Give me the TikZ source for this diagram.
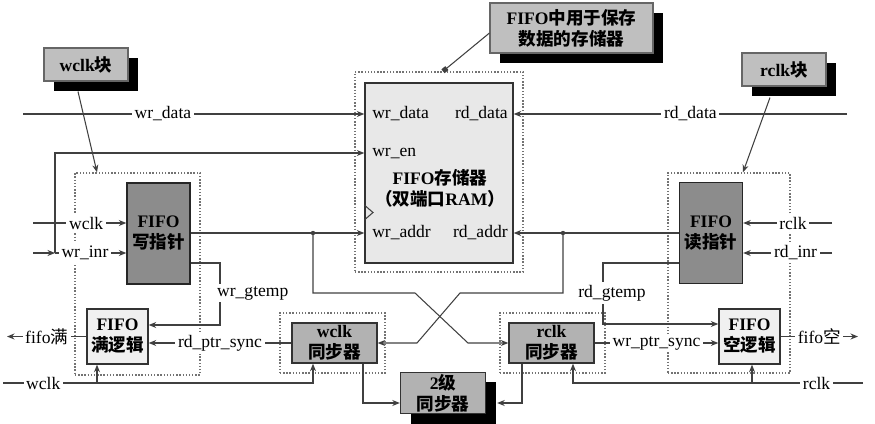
\documentclass[tikz,border=0pt]{standalone}
\usepackage{fontspec}
\setmainfont{Liberation Serif}
\newfontfamily\cjk{Noto Sans CJK SC}
\newcommand\zh[1]{{\cjk #1}}
\usetikzlibrary{arrows.meta,positioning,calc,shadows}
\tikzset{
  ptrbox/.style={rectangle, draw=black!85, thick, fill=black!45, align=center,
                 font=\bfseries, minimum width=12.6mm, minimum height=20.2mm,
                 inner sep=1pt},
  logicbox/.style={rectangle, draw=black!80, thick, fill=black!6, align=center,
                   font=\bfseries, minimum width=12.2mm, minimum height=11mm,
                   inner sep=1pt},
  syncbox/.style={rectangle, draw=black!80, thick, fill=black!30, align=center,
                  font=\bfseries, minimum width=17mm, minimum height=8mm,
                  inner sep=1pt},
  shadowed/.style={drop shadow={shadow xshift=2mm, shadow yshift=-2mm,
                   fill=black, opacity=1}},
  notebox/.style={rectangle, draw=black!60, fill=black!25, align=center,
                  font=\bfseries, inner sep=1pt, shadowed},
  grpbox/.style={rectangle, draw=black!55, densely dotted, line width=0.8pt},
  ramblk/.style={rectangle, draw=black!80, thick, fill=black!9,
                 minimum width=29.6mm, minimum height=36mm},
  port/.style={inner sep=1pt},
  arrow/.style={-{Stealth[length=1.5mm, width=1.2mm]}},
  lbl/.style={fill=white, inner sep=1.5pt}
}

\begin{document}
\begin{tikzpicture}[x=0.2mm, y=-0.2mm, line width=0.6pt, color=black!75, text=black]
  \useasboundingbox (0,0) rectangle (875,423);

  \node[grpbox, minimum width=25mm, minimum height=40.4mm] (wgrp) at (137.5,274) {};
  \node[grpbox, minimum width=24.4mm, minimum height=40mm] (rgrp) at (729,273) {};
  \node[grpbox, minimum width=33.6mm, minimum height=40mm] (ramgrp) at (439,172) {};
  \node[grpbox, minimum width=21mm, minimum height=12mm] (wsgrp) at (332.5,343) {};
  \node[grpbox, minimum width=21mm, minimum height=12mm] (rsgrp) at (552.5,343) {};

  \node[ramblk] (ram) at (439,173) {};
  \node[port, anchor=west] (pwdata) at (370,114) {wr\_data};
  \node[port, anchor=east] (prdata) at (510,114) {rd\_data};
  \node[port, anchor=west] (pwen) at (370,153) {wr\_en};
  \node[port, align=center, font=\bfseries] (ramname) at (440,188)
    {FIFO\zh{存储器}\\\zh{（双端口}RAM\zh{）}};
  \node[port, anchor=west] (pwaddr) at (370,233) {wr\_addr};
  \node[port, anchor=east] (praddr) at (510,233) {rd\_addr};
  \draw (ram.west |- 0,205) -- (373,212.5) -- (ram.west |- 0,220);

  \node[ptrbox] (wptr) at (158.5,233.5) {FIFO\\\zh{写指针}};
  \node[ptrbox] (rptr) at (711,233) {FIFO\\\zh{读指针}};
  \node[logicbox] (wfull) at (117.5,336.5) {FIFO\\\zh{满逻辑}};
  \node[logicbox] (rempty) at (749.5,336.5) {FIFO\\\zh{空逻辑}};
  \node[syncbox] (wsync) at (334.5,343) {wclk\\\zh{同步器}};
  \node[syncbox] (rsync) at (551.5,343) {rclk\\\zh{同步器}};
  \node[syncbox, shadowed] (sync2) at (443,393) {2\zh{级}\\\zh{同步器}};

  \node[notebox, minimum width=16.8mm, minimum height=6.6mm] (wnote) at (86,64.5) {wclk\zh{块}};
  \node[notebox, minimum width=32.6mm, minimum height=10mm] (memnote) at (571.5,28)
    {FIFO\zh{中用于保存}\\\zh{数据的存储器}};
  \node[notebox, minimum width=16.8mm, minimum height=6.6mm] (rnote) at (784,69.5) {rclk\zh{块}};

  \draw[arrow] ($(wnote.south)+(-8,10)$) -- (wgrp.north -| 97,0);
  \draw[-{Square[length=1mm]}] ($(memnote.west)+(0,5)$) -- (ramgrp.north -| 443,0);
  \draw[arrow] ($(rnote.south)+(-14,11)$) -- (rgrp.north -| 743,0);

  \coordinate (wdin) at (23,114);
  \coordinate (rdout) at (847,114);
  \draw[arrow] (wdin) -- node[lbl, pos=0.41] (lwd) {wr\_data} (wdin -| ram.west);
  \draw[arrow] (rdout) -- node[lbl, pos=0.47] (lrd) {rd\_data} (rdout -| ram.east);

  \coordinate (wclkin) at (33,223);
  \coordinate (winr) at (33,253);
  \coordinate (wjoin) at (55,253);
  \draw[arrow] (wclkin) -- node[lbl, pos=0.57] (lwclk) {wclk} (wclkin -| wptr.west);
  \draw[arrow] (winr) -- (wjoin);
  \draw[arrow] (wjoin) -- node[lbl, pos=0.42] (lwinr) {wr\_inr} (wjoin -| wptr.west);
  \draw[arrow] (wjoin) |- (pwen.west -| ram.west);

  \coordinate (rclkin) at (832,223);
  \coordinate (rinr) at (832,253);
  \draw[arrow] (rclkin) -- node[lbl, pos=0.44] (lrclk) {rclk} (rclkin -| rptr.east);
  \draw[arrow] (rinr) -- node[lbl, pos=0.41] (lrinr) {rd\_inr} (rinr -| rptr.east);

  \coordinate (wj) at (313,233);
  \coordinate (rj) at (563,233);
  \draw[arrow] (wptr.east |- wj) -- (wj -| ram.west);
  \draw[arrow] (rptr.west |- rj) -- (rj -| ram.east);
  \fill (wj) circle (2.2);
  \fill (rj) circle (2.2);
  \draw[arrow] (wj) -- (313,293) -- (415,293) -- (468,343) -- (rsync.west);
  \draw[arrow] (rj) -- (563,293) -- (460,293) -- (417,343) -- (wsync.east);

  \draw[arrow] (wptr.east |- 0,263) -- (220,263) -- (220,325) -- (wfull.east |- 0,325);
  \node[lbl, anchor=west] (lwgt) at (214,293) {wr\_gtemp};
  \draw[arrow] (rptr.west |- 0,263) -- (603,263) -- (603,324) -- (rempty.west |- 0,324);
  \node[lbl] (lrgt) at (612,293) {rd\_gtemp};

  \draw[arrow] (wsync.west) -- node[lbl] (lrps) {rd\_ptr\_sync} (wsync.west -| wfull.east);
  \draw[arrow] (rsync.east) -- node[lbl] (lwps) {wr\_ptr\_sync} (rsync.east -| rempty.west);

  \coordinate (fullout) at (7,336.5);
  \coordinate (emptyout) at (858,336.5);
  \draw[arrow] (wfull.west) -- node[lbl] (lfull) {fifo\zh{满}} (fullout);
  \draw[arrow] (rempty.east) -- node[lbl] (lempty) {fifo\zh{空}} (emptyout);

  \coordinate (wclkb) at (3,383);
  \coordinate (rclkb) at (863,383);
  \draw[arrow] (wclkb) -- node[lbl, pos=0.13] (lwclkb) {wclk} (313,383) -- (wsync.south -| 313,0);
  \draw[arrow] (97,383) -- (wfull.south -| 97,0);
  \draw[arrow] (rclkb) -- node[lbl, pos=0.16] (lrclkb) {rclk} (573,383) -- (rsync.south -| 573,0);
  \draw[arrow] (752,383) -- (rempty.south -| 752,0);

  \draw[arrow] (wsync.south -| 363,0) |- (sync2.west |- 0,403);
  \draw[arrow] (rsync.south -| 522,0) |- ($(sync2.east |- 0,403)+(11,0)$);
\end{tikzpicture}
\end{document}
